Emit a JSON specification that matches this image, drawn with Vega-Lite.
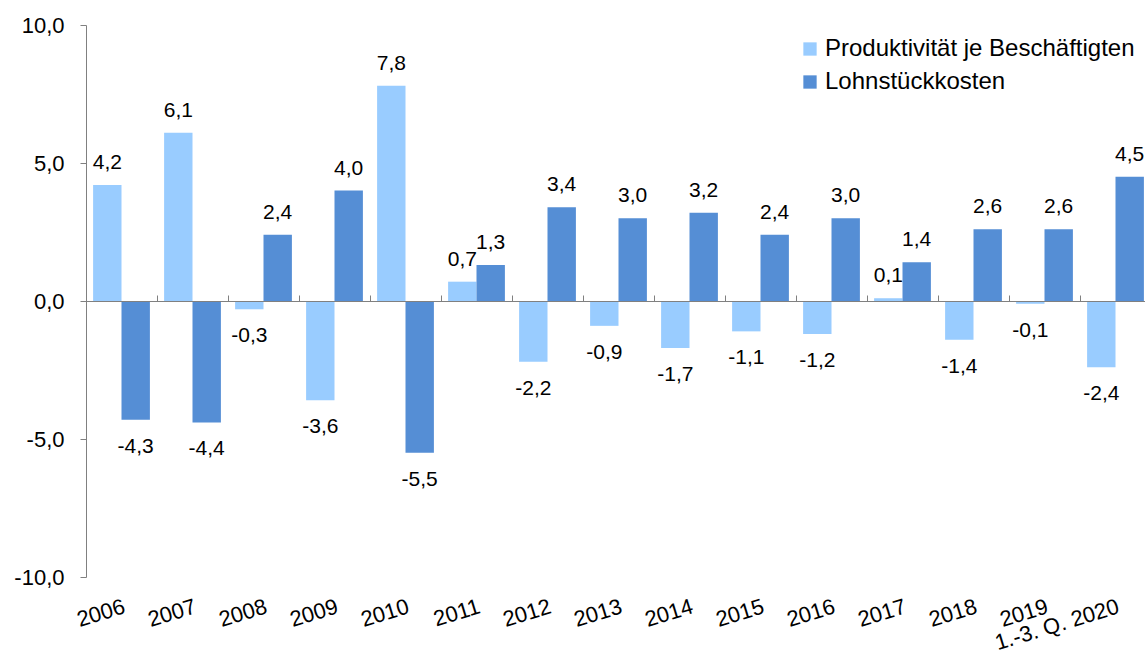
{
  "$schema": "https://vega.github.io/schema/vega-lite/v6.json",
  "autosize": "none",
  "width": 1059,
  "height": 552,
  "padding": {"left": 86, "top": 25, "right": 0, "bottom": 74},
  "config": {
    "locale": {"number": {"decimal": ",", "thousands": ".", "grouping": [3], "currency": ["", " €"], "minus": "-"}},
    "view": {"stroke": null},
    "font": "Liberation Sans"
  },
  "data": {
    "values": [
      {"jahr": "2006", "reihe": "Produktivität je Beschäftigten", "wert": 4.2},
      {"jahr": "2006", "reihe": "Lohnstückkosten", "wert": -4.3},
      {"jahr": "2007", "reihe": "Produktivität je Beschäftigten", "wert": 6.1},
      {"jahr": "2007", "reihe": "Lohnstückkosten", "wert": -4.4},
      {"jahr": "2008", "reihe": "Produktivität je Beschäftigten", "wert": -0.3},
      {"jahr": "2008", "reihe": "Lohnstückkosten", "wert": 2.4},
      {"jahr": "2009", "reihe": "Produktivität je Beschäftigten", "wert": -3.6},
      {"jahr": "2009", "reihe": "Lohnstückkosten", "wert": 4.0},
      {"jahr": "2010", "reihe": "Produktivität je Beschäftigten", "wert": 7.8},
      {"jahr": "2010", "reihe": "Lohnstückkosten", "wert": -5.5},
      {"jahr": "2011", "reihe": "Produktivität je Beschäftigten", "wert": 0.7},
      {"jahr": "2011", "reihe": "Lohnstückkosten", "wert": 1.3},
      {"jahr": "2012", "reihe": "Produktivität je Beschäftigten", "wert": -2.2},
      {"jahr": "2012", "reihe": "Lohnstückkosten", "wert": 3.4},
      {"jahr": "2013", "reihe": "Produktivität je Beschäftigten", "wert": -0.9},
      {"jahr": "2013", "reihe": "Lohnstückkosten", "wert": 3.0},
      {"jahr": "2014", "reihe": "Produktivität je Beschäftigten", "wert": -1.7},
      {"jahr": "2014", "reihe": "Lohnstückkosten", "wert": 3.2},
      {"jahr": "2015", "reihe": "Produktivität je Beschäftigten", "wert": -1.1},
      {"jahr": "2015", "reihe": "Lohnstückkosten", "wert": 2.4},
      {"jahr": "2016", "reihe": "Produktivität je Beschäftigten", "wert": -1.2},
      {"jahr": "2016", "reihe": "Lohnstückkosten", "wert": 3.0},
      {"jahr": "2017", "reihe": "Produktivität je Beschäftigten", "wert": 0.1},
      {"jahr": "2017", "reihe": "Lohnstückkosten", "wert": 1.4},
      {"jahr": "2018", "reihe": "Produktivität je Beschäftigten", "wert": -1.4},
      {"jahr": "2018", "reihe": "Lohnstückkosten", "wert": 2.6},
      {"jahr": "2019", "reihe": "Produktivität je Beschäftigten", "wert": -0.1},
      {"jahr": "2019", "reihe": "Lohnstückkosten", "wert": 2.6},
      {"jahr": "1.-3. Q. 2020", "reihe": "Produktivität je Beschäftigten", "wert": -2.4},
      {"jahr": "1.-3. Q. 2020", "reihe": "Lohnstückkosten", "wert": 4.5}
    ]
  },
  "resolve": {"axis": {"x": "independent"}},
  "layer": [
    {
      "mark": {"type": "bar"},
      "encoding": {
        "x": {
          "field": "jahr", "type": "nominal", "sort": null,
          "scale": {"range": [0, 1065], "paddingInner": 0, "paddingOuter": 0},
          "axis": {
            "title": null, "domain": false, "ticks": false, "grid": false,
            "labelAngle": -17, "labelAlign": "right", "labelBaseline": "top",
            "labelFontSize": 22, "labelColor": "#000000", "labelPadding": 19,
            "labelOverlap": false, "labelBound": false
          }
        },
        "xOffset": {
          "field": "reihe", "type": "nominal",
          "scale": {"domain": ["Produktivität je Beschäftigten", "Lohnstückkosten"], "paddingOuter": 0.25, "paddingInner": 0}
        },
        "y": {
          "field": "wert", "type": "quantitative",
          "scale": {"domain": [-10, 10], "nice": false, "zero": false},
          "axis": {
            "title": null, "values": [-10, -5, 0, 5, 10], "format": ".1f",
            "grid": false, "domainColor": "#808080", "tickColor": "#808080",
            "tickSize": 6, "labelFontSize": 22, "labelColor": "#000000", "labelPadding": 16
          }
        },
        "color": {
          "field": "reihe", "type": "nominal",
          "scale": {"domain": ["Produktivität je Beschäftigten", "Lohnstückkosten"], "range": ["#99CCFF", "#558ED5"]},
          "legend": {
            "title": null, "orient": "none", "legendX": 712, "legendY": 12,
            "symbolType": "square", "symbolSize": 177, "symbolStrokeWidth": 0,
            "labelFontSize": 24, "labelColor": "#000000", "labelOffset": 3,
            "rowPadding": 9, "padding": 0, "labelLimit": 500
          }
        }
      }
    },
    {
      "transform": [{"filter": "datum.wert >= 0"}],
      "mark": {"type": "text", "baseline": "alphabetic", "dy": -16, "fontSize": 21, "color": "#000000"},
      "encoding": {
        "x": {"field": "jahr", "type": "nominal", "sort": null, "axis": null},
        "xOffset": {"field": "reihe", "type": "nominal"},
        "y": {"field": "wert", "type": "quantitative"},
        "text": {"field": "wert", "type": "quantitative", "format": ".1f"}
      }
    },
    {
      "transform": [{"filter": "datum.wert < 0"}],
      "mark": {"type": "text", "baseline": "alphabetic", "dy": 33, "fontSize": 21, "color": "#000000"},
      "encoding": {
        "x": {"field": "jahr", "type": "nominal", "sort": null,
          "axis": {
            "title": null, "labels": false, "grid": false, "offset": -276,
            "domain": true, "domainColor": "#808080", "ticks": true, "tickColor": "#808080",
            "tickSize": 6, "bandPosition": 0, "zindex": 1
          }
        },
        "xOffset": {"field": "reihe", "type": "nominal"},
        "y": {"field": "wert", "type": "quantitative"},
        "text": {"field": "wert", "type": "quantitative", "format": ".1f"}
      }
    }
  ]
}
